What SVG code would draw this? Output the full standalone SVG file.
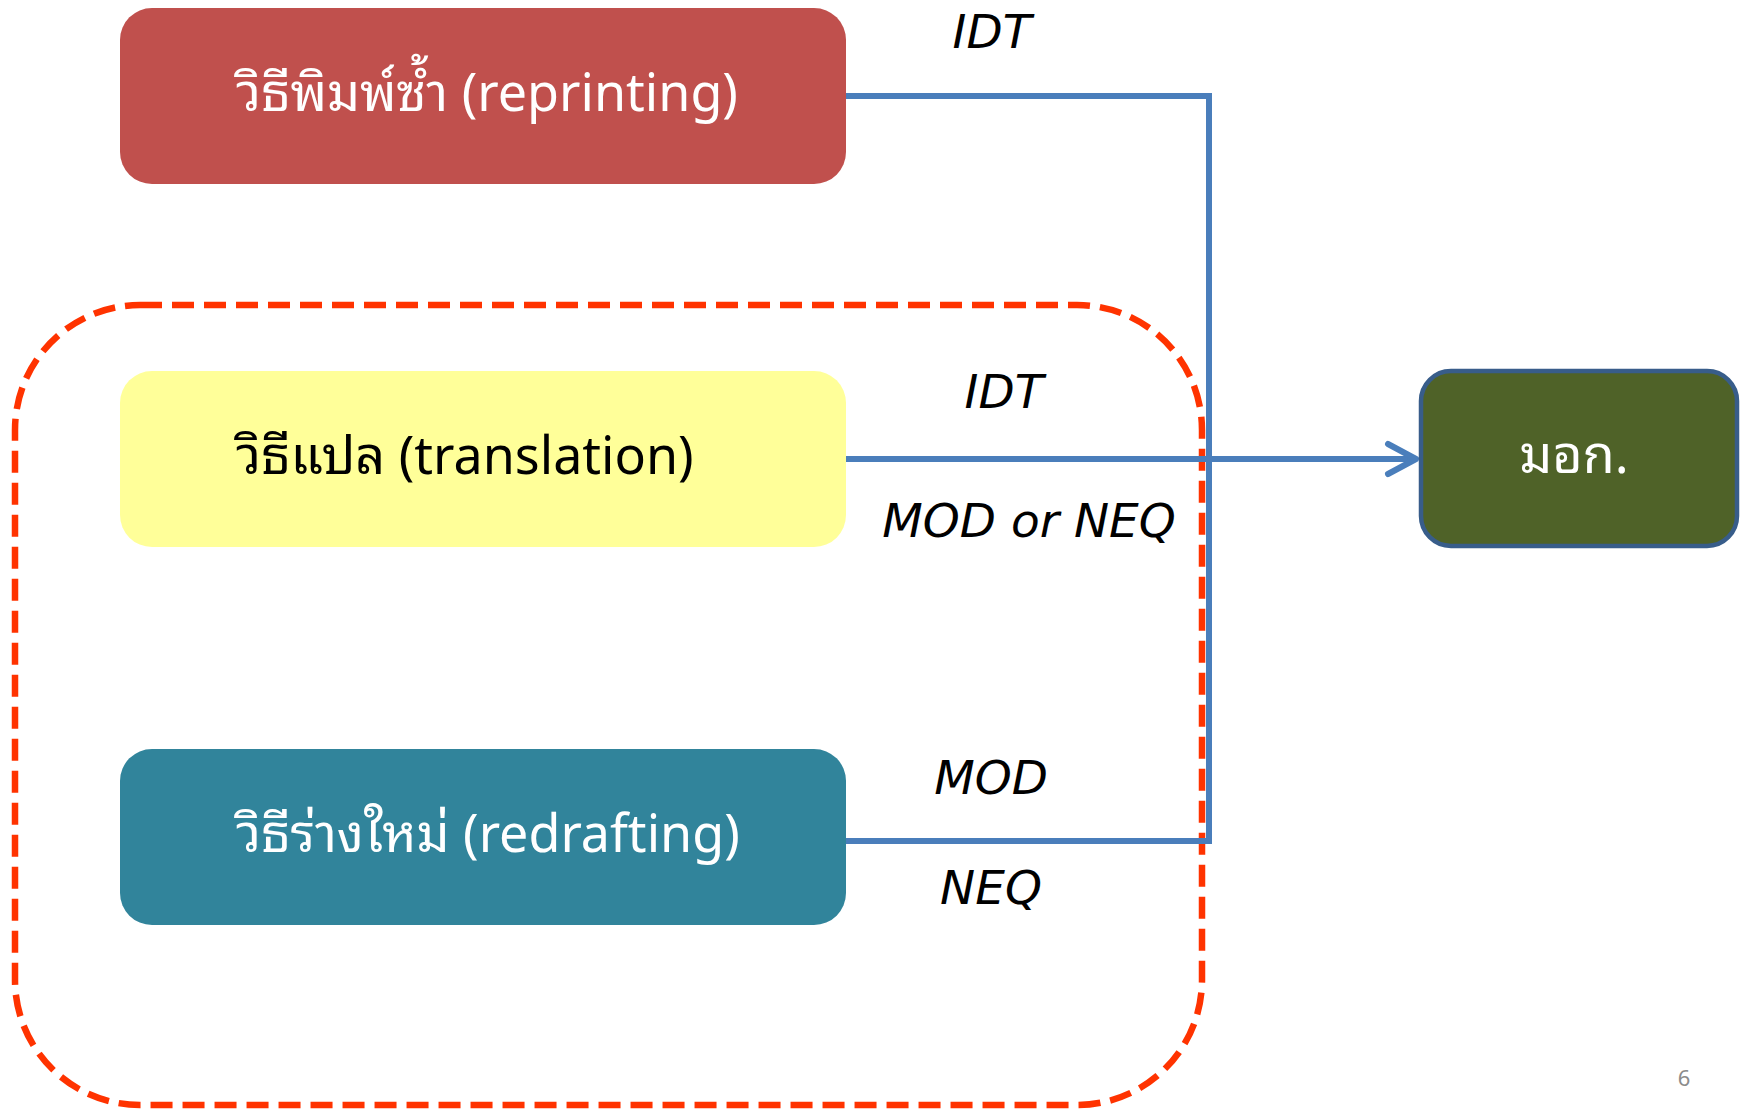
<svg xmlns="http://www.w3.org/2000/svg" width="1747" height="1110" viewBox="0 0 1747 1110">
<style>
.box{stroke:none}
.ttl{font-family:"Noto Sans","Noto Sans Thai Looped","Noto Serif Thai","Noto Sans Thai","Leelawadee UI","DejaVu Sans",sans-serif;font-size:52px}
.lbl{font-family:"DejaVu Sans","Noto Sans",sans-serif;font-style:italic;font-size:47px;fill:#000;text-anchor:middle}
.conn{fill:none;stroke:#4A7EBB;stroke-width:6}
</style>
<defs>
<marker id="arr" markerUnits="userSpaceOnUse" viewBox="0 0 40 40" refX="34" refY="20" markerWidth="40" markerHeight="40" orient="auto">
<polyline points="6,5 34,20 6,35" fill="none" stroke="#4A7EBB" stroke-width="6" stroke-linecap="round" stroke-linejoin="round"/>
</marker>
</defs>
<rect width="1747" height="1110" fill="#fff"/>

<g id="group-boundary">
<rect x="15" y="305" width="1187" height="800" rx="125" ry="125" fill="none" stroke="#FF3300" stroke-width="6.5" stroke-dasharray="22 10"/>
</g>

<g id="connectors">
<path class="conn" d="M846 96 H1209 V459"/>
<path class="conn" d="M846 841 H1209 V459"/>
<path class="conn" d="M846 459 H1416" marker-end="url(#arr)"/>
</g>

<g id="node-reprinting">
<rect class="box" x="120" y="8" width="726" height="176" rx="32" fill="#C0504D"/>
<text class="ttl" x="236" y="111" fill="#fff">วิธีพิมพ์ซ้ำ (reprinting)</text>
</g>

<g id="node-translation">
<rect class="box" x="120" y="371" width="726" height="176" rx="32" fill="#FFFF99"/>
<text class="ttl" x="236" y="474" fill="#000">วิธีแปล (translation)</text>
</g>

<g id="node-redrafting">
<rect class="box" x="120" y="749" width="726" height="176" rx="32" fill="#31849B"/>
<text class="ttl" x="236" y="852" fill="#fff">วิธีร่างใหม่ (redrafting)</text>
</g>

<g id="node-mok">
<rect x="1421" y="371" width="316" height="175" rx="30" fill="#4F6228" stroke="#385D8A" stroke-width="4.5"/>
<text class="ttl" x="1574" y="473" fill="#fff" text-anchor="middle">มอก.</text>
</g>

<g id="labels">
<text class="lbl" x="992" y="48">IDT</text>
<text class="lbl" x="1004" y="408">IDT</text>
<text class="lbl" x="1029" y="537">MOD or NEQ</text>
<text class="lbl" x="991" y="794">MOD</text>
<text class="lbl" x="991" y="904">NEQ</text>
</g>

<text x="1684" y="1086" font-family="'Noto Sans','DejaVu Sans',sans-serif" font-size="22" fill="#8C8C8C" text-anchor="middle">6</text>
</svg>
